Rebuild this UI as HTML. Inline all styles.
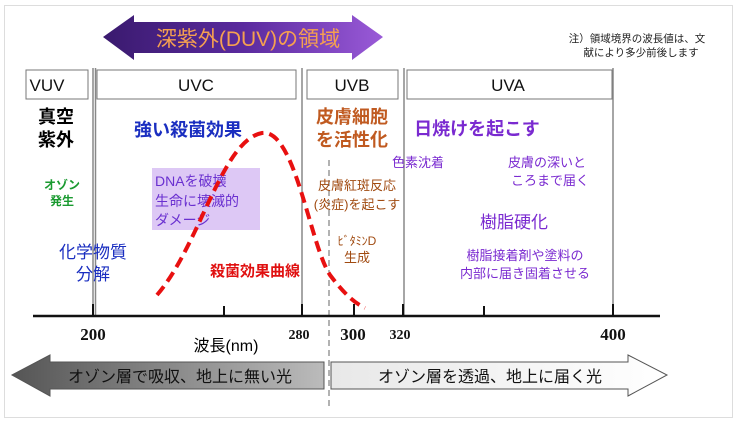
<!DOCTYPE html><html><head><meta charset="utf-8"><style>body{margin:0;background:#fff}svg{display:block}text{font-family:"Liberation Sans","Noto Sans CJK JP",sans-serif}</style></head><body>
<svg width="738" height="424" viewBox="0 0 738 424">
<defs>
<linearGradient id="pg" x1="0" x2="1"><stop offset="0" stop-color="#3a1a6e"/><stop offset="0.5" stop-color="#5a2a9e"/><stop offset="1" stop-color="#9a5ad8"/></linearGradient>
<linearGradient id="lg" x1="0" x2="1"><stop offset="0" stop-color="#555"/><stop offset="1" stop-color="#bbb"/></linearGradient>
<linearGradient id="rg" x1="0" x2="1"><stop offset="0" stop-color="#e8e8e8"/><stop offset="1" stop-color="#fff"/></linearGradient>
</defs>
<rect x="4.5" y="5.5" width="728" height="412" fill="#fff" stroke="#ddd"/>
<path d="M103,37 L134,15 L134,22 L352,22 L352,15 L383,37 L352,60 L352,53 L134,53 L134,60 Z" fill="url(#pg)"/>
<text x="248" y="46" font-size="21" fill="#f5a050" text-anchor="middle">深紫外(DUV)の領域</text>
<text x="637" y="42" font-size="10.5" text-anchor="middle" fill="#222">注）領域境界の波長値は、文</text>
<text x="641" y="56" font-size="10.5" text-anchor="middle" fill="#222">献により多少前後します</text>
<g stroke="#888" stroke-width="1.5" fill="none">
<line x1="93" y1="68" x2="93" y2="316"/><line x1="95.5" y1="68" x2="95.5" y2="316"/>
<line x1="302" y1="68" x2="302" y2="316"/><line x1="404" y1="68" x2="404" y2="316"/><line x1="613" y1="68" x2="613" y2="316"/>
</g>
<g fill="#fff" stroke="#777" stroke-width="1">
<rect x="26" y="70" width="62" height="29"/><rect x="97" y="70" width="199" height="29"/><rect x="307" y="70" width="91" height="29"/><rect x="407" y="70" width="205" height="29"/>
</g>
<g font-size="17" text-anchor="middle" fill="#111">
<text x="47" y="91">VUV</text><text x="196" y="91">UVC</text><text x="352" y="91">UVB</text><text x="508" y="91">UVA</text>
</g>
<rect x="152" y="168" width="108" height="62" fill="#ddc8f5"/>
<line x1="329" y1="160" x2="329" y2="410" stroke="#666" stroke-dasharray="6,4"/>
<g font-weight="bold">
<text x="56" y="123" font-size="18" text-anchor="middle">真空</text>
<text x="56" y="146" font-size="18" text-anchor="middle">紫外</text>
<text x="188" y="136" font-size="18" fill="#1a2ec0" text-anchor="middle">強い殺菌効果</text>
<text x="62" y="189" font-size="12" fill="#1a9a30" text-anchor="middle">オゾン</text>
<text x="62" y="205" font-size="12" fill="#1a9a30" text-anchor="middle">発生</text>
<text x="352" y="123" font-size="18" fill="#c05a20" text-anchor="middle">皮膚細胞</text>
<text x="352" y="146" font-size="18" fill="#c05a20" text-anchor="middle">を活性化</text>
<text x="477" y="135" font-size="18" fill="#7a2ad0" text-anchor="middle">日焼けを起こす</text>
</g>
<g fill="#6a30d0" font-size="14">
<text x="155" y="186">DNAを破壊</text><text x="155" y="206">生命に壊滅的</text><text x="155" y="225">ダメージ</text>
</g>
<text x="93" y="258" font-size="17" fill="#1a2ec0" text-anchor="middle">化学物質</text>
<text x="93" y="280" font-size="17" fill="#1a2ec0" text-anchor="middle">分解</text>
<text x="255" y="276" font-size="15" font-weight="bold" fill="#e01010" text-anchor="middle">殺菌効果曲線</text>
<g fill="#a04a10" font-size="13" text-anchor="middle">
<text x="357" y="190">皮膚紅斑反応</text><text x="357" y="209">(炎症)を起こす</text>
<text x="357" y="245" font-size="12">ﾋﾞﾀﾐﾝD</text><text x="357" y="262">生成</text>
</g>
<g fill="#7a2ad0" font-size="13" text-anchor="middle">
<text x="418" y="167">色素沈着</text>
<text x="547" y="167">皮膚の深いと</text><text x="550" y="185">ころまで届く</text>
<text x="514" y="228" font-size="17">樹脂硬化</text>
<text x="525" y="260">樹脂接着剤や塗料の</text><text x="525" y="278">内部に届き固着させる</text>
</g>
<path d="M157,295 C200,245 222,140 262,133 C295,128 310,245 330,275 C345,295 355,303 365,308" fill="none" stroke="#e81010" stroke-width="4" stroke-dasharray="11,6"/>
<line x1="33" y1="316" x2="660" y2="316" stroke="#111" stroke-width="2.5"/>
<g stroke="#111" stroke-width="2">
<line x1="93" y1="304" x2="93" y2="316"/><line x1="224" y1="306" x2="224" y2="316"/><line x1="302" y1="304" x2="302" y2="316"/><line x1="354" y1="304" x2="354" y2="316"/><line x1="403" y1="304" x2="403" y2="316"/><line x1="484" y1="306" x2="484" y2="316"/><line x1="613" y1="304" x2="613" y2="316"/>
</g>
<g font-weight="bold" text-anchor="middle" fill="#111" style="font-family:'Liberation Serif',serif">
<text x="93" y="340" font-size="17" style="font-family:'Liberation Serif',serif">200</text>
<text x="299" y="339" font-size="14" style="font-family:'Liberation Serif',serif">280</text>
<text x="353" y="340" font-size="17" style="font-family:'Liberation Serif',serif">300</text>
<text x="400" y="339" font-size="14" style="font-family:'Liberation Serif',serif">320</text>
<text x="613" y="340" font-size="17" style="font-family:'Liberation Serif',serif">400</text>
</g>
<text x="226" y="351" font-size="16" text-anchor="middle">波長(nm)</text>
<path d="M12,375 L50,355 L50,362 L324,362 L324,389 L50,389 L50,396 Z" fill="url(#lg)" stroke="#555"/>
<path d="M331,362 L628,362 L628,355 L667,375 L628,396 L628,389 L331,389 Z" fill="url(#rg)" stroke="#555"/>
<text x="180" y="382" font-size="16" text-anchor="middle" fill="#111">オゾン層で吸収、地上に無い光</text>
<text x="490" y="382" font-size="16" text-anchor="middle" fill="#111">オゾン層を透過、地上に届く光</text>
</svg></body></html>
